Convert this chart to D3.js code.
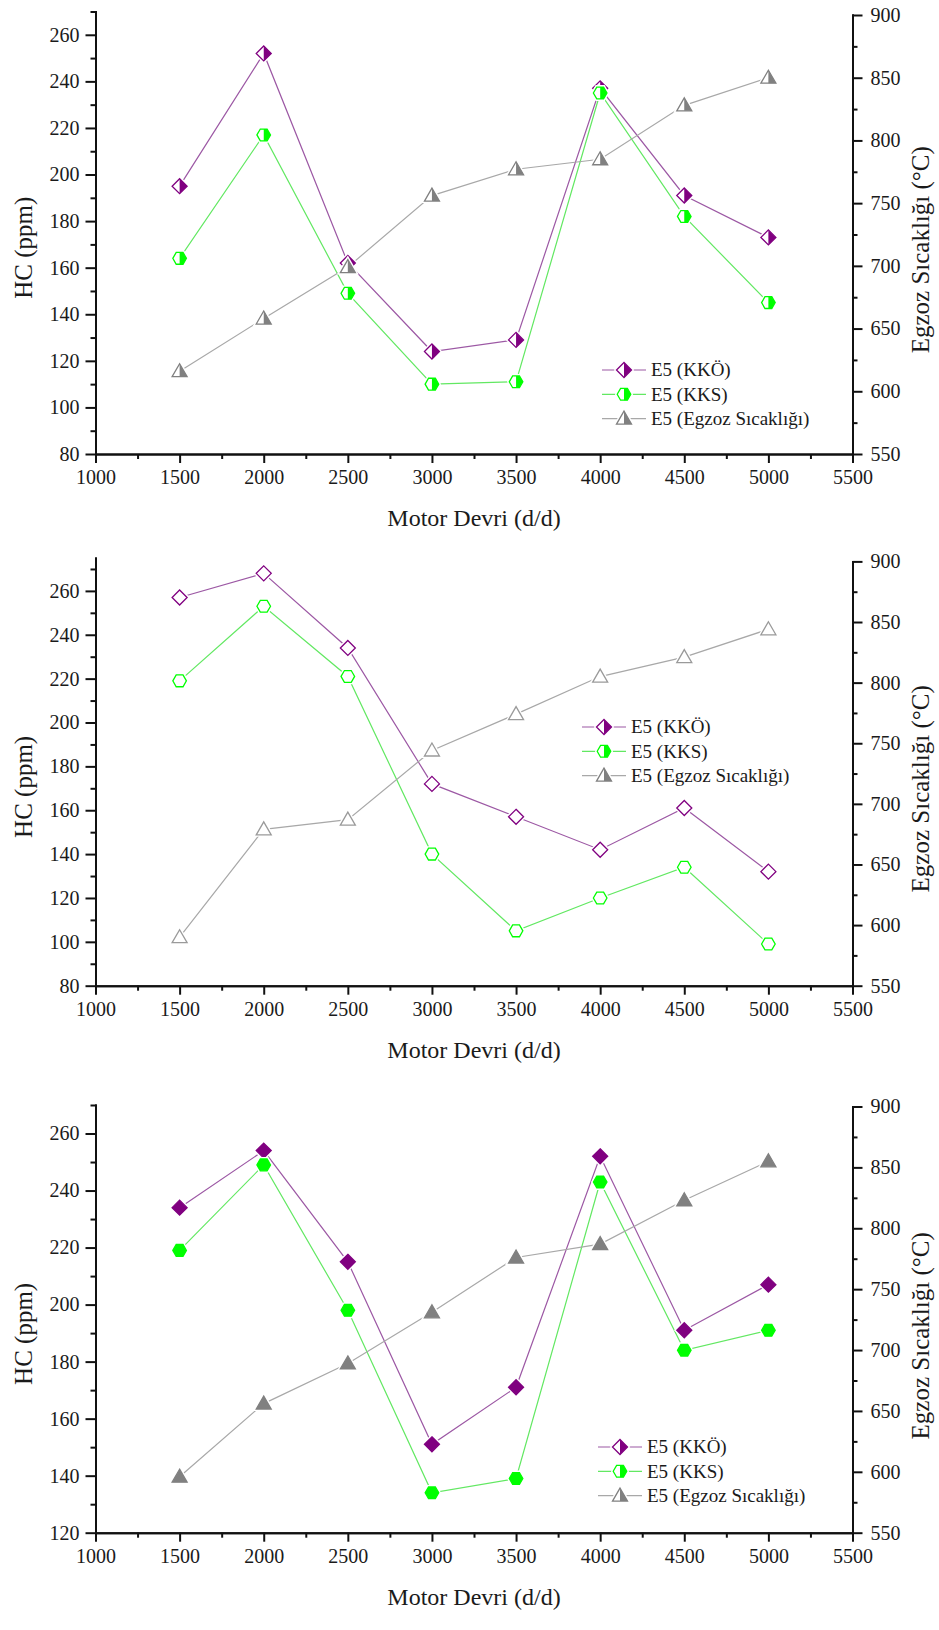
<!DOCTYPE html>
<html>
<head>
<meta charset="utf-8">
<script src="https://cdn.jsdelivr.net/npm/d3@7"></script>
<style>
  html, body { margin: 0; padding: 0; background: #fff; }
  svg { display: block; }
  svg text { font-family: "Liberation Serif", "Times New Roman", serif; fill: #1a1a1a; }
</style>
</head>
<body>
<svg id="chart" width="939" height="1630"></svg>
<script>
// engine speed (x values shared by every panel)
const rpm = [1500, 2000, 2500, 3000, 3500, 4000, 4500, 5000];

// top panel values
const hcKkoTop = [195, 252, 162, 124, 129, 237, 191, 173];
const hcKksTop = [164, 217, 149, 110, 111, 235, 182, 145];
const tempTop = [616, 658, 699, 756, 777, 785, 828, 850];

// middle panel values
const hcKkoMid = [257, 268, 234, 172, 157, 142, 161, 132];
const hcKksMid = [219, 253, 221, 140, 105, 120, 134, 99];
const tempMid = [590, 679, 687, 744, 774, 805, 821, 844];

// bottom panel values
const hcKkoBot = [234, 254, 215, 151, 171, 252, 191, 207];
const hcKksBot = [219, 249, 198, 134, 139, 243, 184, 191];
const tempBot = [596, 656, 689, 731, 776, 787, 823, 855];

// tick labels
const xTicks = [1000, 1500, 2000, 2500, 3000, 3500, 4000, 4500, 5000, 5500];
const xMinorTicks = [1250, 1750, 2250, 2750, 3250, 3750, 4250, 4750, 5250];
const hcTicksA = [80, 100, 120, 140, 160, 180, 200, 220, 240, 260];
const hcMinorA = [90, 110, 130, 150, 170, 190, 210, 230, 250, 270];
const hcTicksB = [120, 140, 160, 180, 200, 220, 240, 260];
const hcMinorB = [130, 150, 170, 190, 210, 230, 250, 270];
const tempTicks = [550, 600, 650, 700, 750, 800, 850, 900];
const tempMinor = [575, 625, 675, 725, 775, 825, 875];

const legendLabels = ['E5 (KKÖ)', 'E5 (KKS)', 'E5 (Egzoz Sıcaklığı)'];
const xTitle = 'Motor Devri (d/d)';
const yLeftTitle = 'HC (ppm)';
const yRightTitle = 'Egzoz Sıcaklığı (°C)';

// colours
const purple = '#800080';
const green = '#00ff00';
const grey = '#808080';
const lineColors = ['#9c58a4', '#62e862', '#a8a8a8'];
const serif = '"Liberation Serif", "Times New Roman", serif';

// panel layout (pixels) and which marker fill each panel uses
const panels = [
  { kko: hcKkoTop, kks: hcKksTop, temp: tempTop, bottom: 454, leftTop: 11.5, rightTop: 15,
    leftMax: 270, leftMin: 80, ticks: hcTicksA, minor: hcMinorA, fill: 'half',
    legendX: 602, legendY: 370 },
  { kko: hcKkoMid, kks: hcKksMid, temp: tempMid, bottom: 985.7, leftTop: 558, rightTop: 561.4,
    leftMax: 275, leftMin: 80, ticks: hcTicksA, minor: hcMinorA, fill: 'open',
    legendX: 582, legendY: 727 },
  { kko: hcKkoBot, kks: hcKksBot, temp: tempBot, bottom: 1532.7, leftTop: 1105, rightTop: 1106.5,
    leftMax: 270, leftMin: 120, ticks: hcTicksB, minor: hcMinorB, fill: 'solid',
    legendX: 598, legendY: 1447 },
];

const svg = d3.select('#chart');
svg.append('rect').attr('width', 939).attr('height', 1630).attr('fill', '#fff');

// x scale is the same for all three panels
const x = d3.scaleLinear().domain([1000, 5500]).range([95.5, 852.5]);

// marker shapes: full outline and right-half fill
const shapes = {
  diamond: {
    full: 'M0,-7.5L7.5,0L0,7.5L-7.5,0Z',
    half: 'M0,-7.5L7.5,0L0,7.5Z',
  },
  hexagon: {
    full: 'M-6.8,0L-3.4,-5.9L3.4,-5.9L6.8,0L3.4,5.9L-3.4,5.9Z',
    half: 'M0,-5.9L3.4,-5.9L6.8,0L3.4,5.9L0,5.9Z',
  },
  triangle: {
    full: 'M0,-7.5L7.5,5.5L-7.5,5.5Z',
    half: 'M0,-7.5L7.5,5.5L0,5.5Z',
  },
};

// draw one marker at (cx, cy)
function drawMarker(g, cx, cy, shape, color, fill) {
  const m = g.append('g').attr('transform', `translate(${cx},${cy})`);
  // white halo so the line stops short of the symbol
  m.append('path').attr('d', shapes[shape].full)
    .attr('fill', '#fff').attr('stroke', '#fff').attr('stroke-width', 4);
  if (fill === 'solid') {
    m.append('path').attr('d', shapes[shape].full)
      .attr('fill', color).attr('stroke', color).attr('stroke-width', 1.3);
  } else {
    m.append('path').attr('d', shapes[shape].full)
      .attr('fill', '#fff').attr('stroke', fill === 'open' && shape === 'triangle' ? '#9a9a9a' : color)
      .attr('stroke-width', 1.3);
    if (fill === 'half') {
      m.append('path').attr('d', shapes[shape].half).attr('fill', color);
    }
  }
}

// put text in the serif face at a given size
function serifText(sel, size) {
  sel.style('font-family', serif).style('font-size', size + 'px').style('fill', '#1a1a1a');
}

function drawPanel(p) {
  const g = svg.append('g');

  const yL = d3.scaleLinear().domain([p.leftMin, p.leftMax]).range([p.bottom, p.leftTop]);
  const yR = d3.scaleLinear().domain([550, 900]).range([p.bottom, p.rightTop]);

  // axes: major ticks then minor ticks
  const axisStyle = (sel) => {
    sel.selectAll('path, line').attr('stroke', '#111').attr('stroke-width', 2);
    sel.selectAll('text').call(serifText, 20);
  };

  g.append('g').attr('transform', `translate(0,${p.bottom})`)
    .call(d3.axisBottom(x).tickValues(xTicks).tickSize(9).tickPadding(7).tickSizeOuter(0).tickFormat(d3.format('d')))
    .call(axisStyle);
  g.append('g').attr('transform', `translate(0,${p.bottom})`)
    .call(d3.axisBottom(x).tickValues(xMinorTicks).tickSize(5).tickSizeOuter(0).tickFormat(''))
    .call(axisStyle);

  g.append('g').attr('transform', `translate(${x.range()[0]},0)`)
    .call(d3.axisLeft(yL).tickValues(p.ticks).tickSize(10).tickPadding(6).tickSizeOuter(0))
    .call(axisStyle);
  g.append('g').attr('transform', `translate(${x.range()[0]},0)`)
    .call(d3.axisLeft(yL).tickValues(p.minor).tickSize(5).tickSizeOuter(0).tickFormat(''))
    .call(axisStyle);

  g.append('g').attr('transform', `translate(${x.range()[1]},0)`)
    .call(d3.axisRight(yR).tickValues(tempTicks).tickSize(10).tickPadding(8).tickSizeOuter(0))
    .call(axisStyle);
  g.append('g').attr('transform', `translate(${x.range()[1]},0)`)
    .call(d3.axisRight(yR).tickValues(tempMinor).tickSize(5).tickSizeOuter(0).tickFormat(''))
    .call(axisStyle);

  g.selectAll('.domain').attr('stroke-linecap', 'square');

  // axis titles
  g.append('text').attr('x', 474).attr('y', p.bottom + 72)
    .attr('text-anchor', 'middle').call(serifText, 24).text(xTitle);

  const midY = (p.bottom + p.leftTop) / 2 + 15;
  g.append('text').attr('transform', `translate(32,${midY}) rotate(-90)`)
    .attr('text-anchor', 'middle').call(serifText, 25).text(yLeftTitle);
  g.append('text').attr('transform', `translate(929,${midY + 2}) rotate(-90)`)
    .attr('text-anchor', 'middle').call(serifText, 25).text(yRightTitle);

  // series: [values, scale, shape, marker colour, line colour]
  const series = [
    [p.kko, yL, 'diamond', purple, lineColors[0]],
    [p.kks, yL, 'hexagon', green, lineColors[1]],
    [p.temp, yR, 'triangle', grey, lineColors[2]],
  ];

  const line = d3.line();
  series.forEach(function ([vals, yScale, shape, color, lc]) {
    g.append('path')
      .attr('d', line(vals.map((v, i) => [x(rpm[i]), yScale(v)])))
      .attr('fill', 'none').attr('stroke', lc).attr('stroke-width', 1.2);
  });
  series.forEach(function ([vals, yScale, shape, color]) {
    vals.forEach(function (v, i) {
      drawMarker(g, x(rpm[i]), yScale(v), shape, color, p.fill);
    });
  });

  // legend (always drawn with half-filled symbols)
  series.forEach(function ([vals, yScale, shape, color, lc], i) {
    const ly = p.legendY + i * 24.3;
    g.append('line').attr('x1', p.legendX).attr('x2', p.legendX + 44)
      .attr('y1', ly).attr('y2', ly).attr('stroke', lc).attr('stroke-width', 1.2);
    drawMarker(g, p.legendX + 22, ly, shape, color, 'half');
    g.append('text').attr('x', p.legendX + 49).attr('y', ly).attr('dy', '0.33em')
      .call(serifText, 19).text(legendLabels[i]);
  });
}

panels.forEach(drawPanel);
</script>
</body>
</html>
